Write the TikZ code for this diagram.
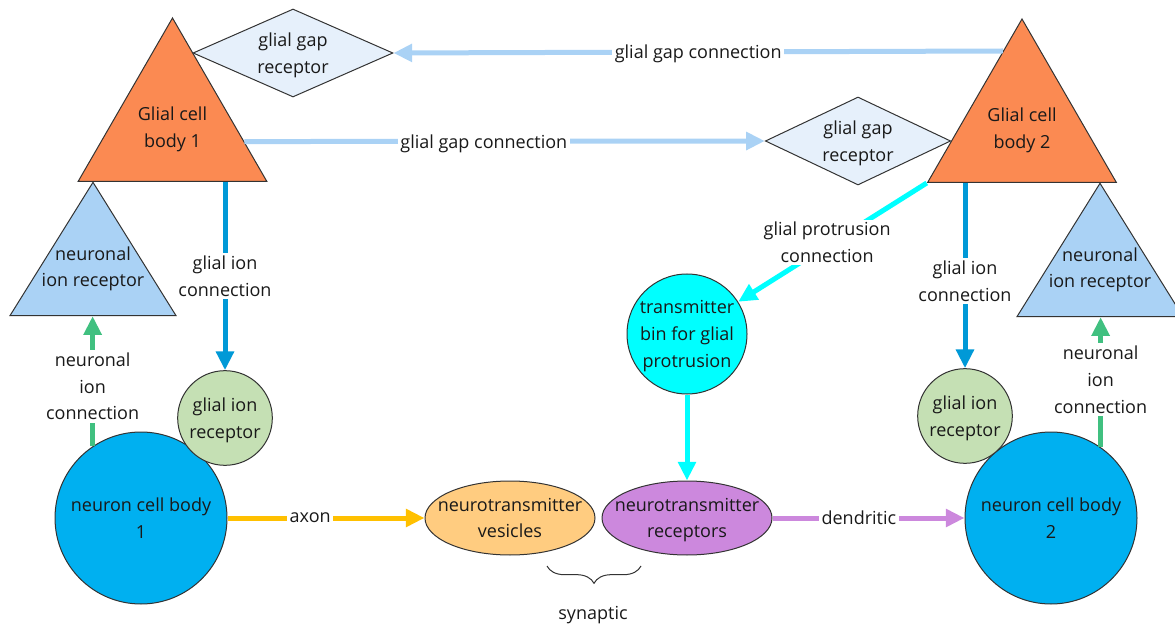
\documentclass[tikz,border=0pt]{standalone}
\usepackage{fontspec}
\setmainfont{Open Sans}
\usetikzlibrary{arrows.meta,calc,shapes.geometric,decorations.pathreplacing}

\definecolor{glialorange}{RGB}{251,138,82}
\definecolor{gapfill}{RGB}{230,240,251}
\definecolor{gapblue}{RGB}{170,210,245}
\definecolor{ionblue}{RGB}{0,153,215}
\definecolor{neuronblue}{RGB}{0,176,240}
\definecolor{iongreen}{RGB}{197,224,180}
\definecolor{neugreen}{RGB}{64,192,128}
\definecolor{bincyan}{RGB}{0,255,255}
\definecolor{axonyellow}{RGB}{255,192,0}
\definecolor{vesorange}{RGB}{255,204,128}
\definecolor{recpurple}{RGB}{204,136,221}

\tikzset{
  every node/.style={font=\fontsize{13.5}{20}\selectfont, align=center,
    text=black!90, text depth=0pt},
  outline/.style={draw=black!80, line width=0.75pt},
  glialbody/.style={outline, regular polygon, regular polygon sides=3,
    minimum size=163.5pt, inner sep=0pt, fill=glialorange},
  gapreceptor/.style={outline, diamond, shape aspect=2.2, inner sep=0pt,
    minimum height=66pt, fill=gapfill},
  nionreceptor/.style={outline, isosceles triangle, isosceles triangle stretches,
    shape border rotate=90, minimum width=124.5pt, minimum height=100pt,
    inner sep=0pt, fill=gapblue},
  neuronbody/.style={outline, circle, minimum size=129pt, inner sep=0pt, fill=neuronblue},
  gionreceptor/.style={outline, circle, minimum size=71pt, inner sep=0pt, fill=iongreen},
  binbody/.style={outline, circle, minimum size=90pt, inner sep=-4pt, fill=bincyan},
  synbody/.style={outline, ellipse, minimum width=127.5pt, minimum height=55.5pt,
    inner xsep=-16pt, inner ysep=-3pt},
  conn/.style={line width=3.75pt, -{Triangle[length=14pt,width=13pt]}},
  lbl/.style={fill=white, inner sep=2pt}
}

\begin{document}
\begin{tikzpicture}[x=0.75pt, y=-0.75pt]
  %%%%% START %%%%%
  \useasboundingbox (0,0) rectangle (1175,627);

  \node[glialbody] (g1) at (172.5,127) {Glial cell\\body 1};
  \node[glialbody] (g2) at (1022,128) {Glial cell\\body 2};

  \node[gapreceptor, minimum width=150pt] (ggr1) at (293,53) {glial gap\\receptor};
  \node[gapreceptor, minimum width=139pt] (ggr2) at (858,141) {glial gap\\receptor};

  \node[nionreceptor, anchor=apex,
    label={[yshift=-83pt]north:{neuronal\\ion receptor}}] (nir1) at (93,181) {};
  \node[nionreceptor, anchor=apex,
    label={[yshift=-83pt]north:{neuronal\\ion receptor}}] (nir2) at (1100,182) {};

  \node[neuronbody] (nc1) at (141,518) {neuron cell body\\1};
  \node[neuronbody] (nc2) at (1051,518) {neuron cell body\\2};

  \node[gionreceptor] (gir1) at (225,418) {glial ion\\receptor};
  \node[gionreceptor] (gir2) at (965,416) {glial ion\\receptor};

  \node[binbody] (bin) at (687,334) {transmitter\\bin for glial\\protrusion};

  \node[synbody, fill=vesorange] (ntv) at (510,518) {neurotransmitter\\vesicles};
  \node[synbody, fill=recpurple] (ntr) at (687,518) {neurotransmitter\\receptors};

  % glial gap connections
  \draw[conn, gapblue] ($(g2.corner 1)!0.2!(g2.corner 2)$) -- (ggr1.east)
    node[lbl, pos=0.5] {glial gap connection};
  \draw[conn, gapblue] ($(g1.corner 1)!0.755!(g1.corner 3)$) -- (ggr2.west)
    node[lbl, pos=0.46] {glial gap connection};

  % glial ion connections
  \draw[conn, ionblue] (gir1.north |- g1.corner 2) -- (gir1.north)
    node[lbl, midway] {glial ion\\connection};
  \draw[conn, ionblue] (gir2.north |- g2.corner 2) -- (gir2.north)
    node[lbl, pos=0.53] {glial ion\\connection};

  % neuronal ion connections
  \draw[conn, neugreen] (nc1.124) -- (nc1.124 |- nir1.lower side)
    node[lbl, pos=0.46] {neuronal\\ion\\connection};
  \draw[conn, neugreen] (nc2.55) -- (nc2.55 |- nir2.lower side)
    node[lbl, pos=0.52] {neuronal\\ion\\connection};

  % glial protrusion
  \draw[conn, bincyan] (g2.corner 2) -- (bin)
    node[lbl, midway, xshift=-4pt] {glial protrusion\\connection};
  \draw[conn, bincyan] (bin) -- (ntr);

  % axon and dendritic
  \draw[conn, axonyellow] (nc1) -- (ntv) node[lbl, pos=0.42] {axon};
  \draw[conn, recpurple] (ntr) -- (nc2) node[lbl, pos=0.45] {dendritic};

  % synaptic brace
  \draw[black!80, line width=0.75pt, decorate,
    decoration={brace, mirror, amplitude=13pt}] (547,566) -- (641,566);
  \node (syn) at (593,613) {synaptic};
  %%%%% END %%%%%
\end{tikzpicture}
\end{document}
